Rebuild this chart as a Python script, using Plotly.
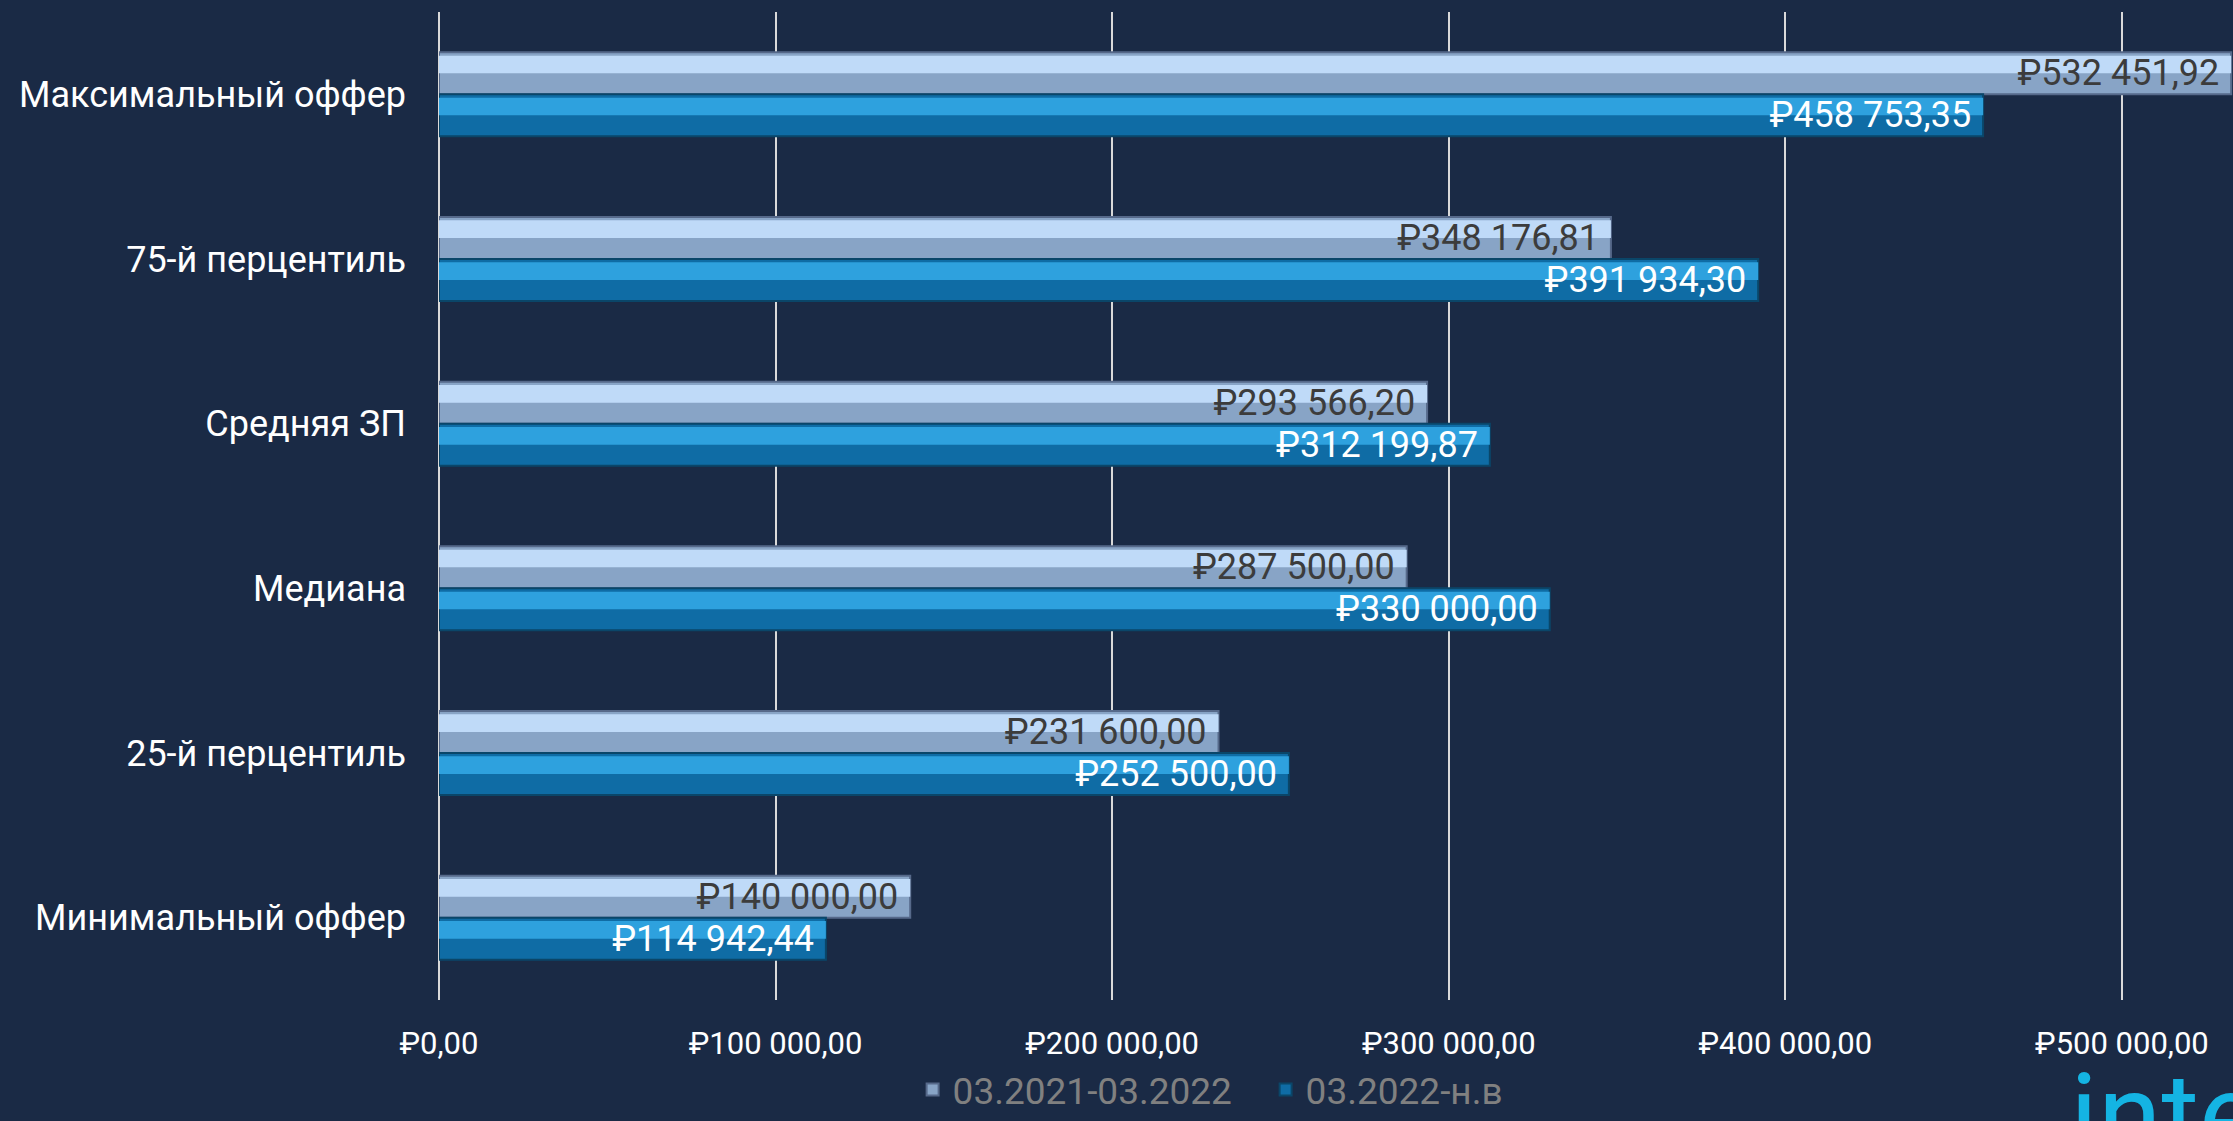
import plotly.graph_objects as go

categories = ["Максимальный оффер", "75-й перцентиль", "Средняя ЗП",
              "Медиана", "25-й перцентиль", "Минимальный оффер"]
series_names = ["03.2021-03.2022", "03.2022-н.в"]
prev_period = [532451.92, 348176.81, 293566.20, 287500.00, 231600.00, 140000.00]
curr_period = [458753.35, 391934.30, 312199.87, 330000.00, 252500.00, 114942.44]
tick_values = [0, 100000, 200000, 300000, 400000, 500000]

BG = "#1a2a45"
FONT = "Roboto, 'DejaVu Sans', sans-serif"
BAR_W = 0.255


def rub(v):
    s = f"{v:,.2f}".replace(",", " ").replace(".", ",")
    return "₽" + s


def add_series(fig, values, name, offset, dark, light, line, text_color):
    # base bar (darker lower half colour)
    fig.add_trace(go.Bar(
        y=categories, x=values, orientation="h", name=name,
        offset=offset, width=BAR_W,
        marker=dict(color=dark, line=dict(color=line, width=2)),
        hoverinfo="skip", showlegend=True,
    ))
    # highlight on the upper half of the bar
    fig.add_trace(go.Bar(
        y=categories, x=values, orientation="h", name=name,
        offset=offset + 0.02, width=BAR_W / 2 - 0.02,
        marker=dict(color=light, line=dict(width=0)),
        hoverinfo="skip", showlegend=False,
    ))
    # value labels
    fig.add_trace(go.Bar(
        y=categories, x=values, orientation="h", name=name,
        offset=offset, width=BAR_W,
        marker=dict(color="rgba(0,0,0,0)", line=dict(width=0)),
        text=[rub(v) + "\u00a0" for v in values], textposition="inside",
        insidetextanchor="end", constraintext="none",
        textfont=dict(color=text_color, size=36, family=FONT),
        hoverinfo="skip", showlegend=False,
    ))


fig = go.Figure()
add_series(fig, prev_period, series_names[0], -BAR_W,
           "#88a4c6", "#bfdaf8", "#56698a", "#3c3c3c")
add_series(fig, curr_period, series_names[1], 0,
           "#0f6ca5", "#2ea1de", "#0a4669", "#ffffff")

# partly visible logo in the bottom-right corner
fig.add_annotation(
    text="inte", x=0.908, y=-0.047, xref="paper", yref="paper",
    xanchor="left", yanchor="top", showarrow=False,
    font=dict(color="#14b4e3", size=115, family=FONT),
)

fig.update_layout(
    width=2233, height=1121,
    margin=dict(l=439, r=0, t=12, b=121, autoexpand=False),
    paper_bgcolor=BG, plot_bgcolor=BG,
    barmode="overlay",
    font=dict(family=FONT, color="#ffffff"),
    showlegend=True,
    legend=dict(
        orientation="h", x=0.264, xanchor="left", y=-0.1225, yanchor="bottom",
        font=dict(color="#808080", size=37, family=FONT),
        bgcolor="rgba(0,0,0,0)", itemwidth=30, tracegroupgap=0,
        entrywidth=308, entrywidthmode="pixels",
    ),
    xaxis=dict(
        range=[0, 533000], tickvals=tick_values,
        ticktext=[rub(v) for v in tick_values],
        showgrid=True, gridcolor="#d9d9d9", gridwidth=2,
        zeroline=True, zerolinecolor="#d9d9d9", zerolinewidth=2,
        showline=False, ticks="", ticklabelstandoff=22,
        tickfont=dict(size=31, color="#ffffff", family=FONT),
    ),
    yaxis=dict(
        categoryorder="array", categoryarray=categories,
        autorange="reversed", showgrid=False, zeroline=False,
        ticks="", ticklabelstandoff=32,
        tickfont=dict(size=36, color="#ffffff", family=FONT),
    ),
)

fig.write_html(
    "out.html",
    config={"displayModeBar": False},
    post_script="document.body.style.margin='0';"
                "document.body.style.background='" + BG + "';",
)
